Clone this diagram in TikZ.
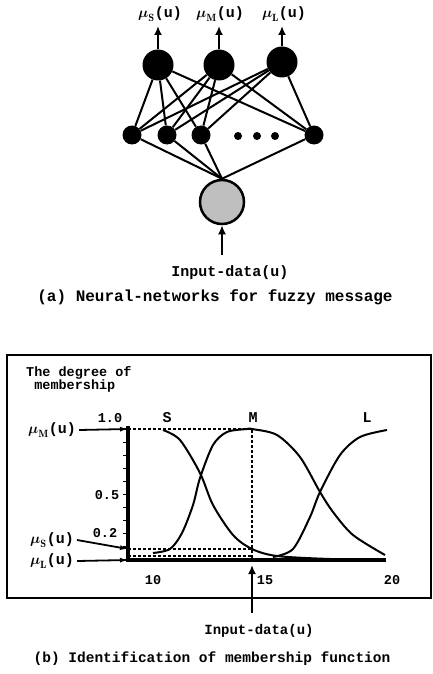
\documentclass[tikz,border=0pt]{standalone}
\usepackage{amsmath}
\usepackage{fontspec}
\setmonofont{Liberation Mono}
\usetikzlibrary{arrows.meta}
\newcommand\mulab[1]{$\boldsymbol{\mu}_{\mathbf{#1}}$(u)}
\begin{document}
\begin{tikzpicture}[x=1pt,y=-1pt,
  txt/.style={font=\ttfamily\bfseries\fontsize{15}{15}\selectfont, inner sep=0},
  small/.style={font=\ttfamily\bfseries\fontsize{13.5}{13.5}\selectfont, inner sep=0},
  captxt/.style={font=\ttfamily\bfseries\fontsize{16}{16}\selectfont, inner sep=0},
  outn/.style={circle, fill=black, minimum size=31pt, inner sep=0},
  hidn/.style={circle, fill=black, minimum size=19pt, inner sep=0},
  dotn/.style={circle, fill=black, minimum size=8pt, inner sep=0},
  inn/.style={circle, fill=gray!50, draw=black, line width=2.5pt, minimum size=44pt, inner sep=0},
  conn/.style={line width=2pt},
  arr/.style={line width=2.6pt, -{Latex[length=9pt,width=8pt]}},
  thinarr/.style={line width=1.8pt, -{Latex[length=8pt,width=5pt]}},
  curve/.style={line width=2pt},
  dsh/.style={line width=1.6pt, dash pattern=on 3pt off 2pt},
  axis/.style={line width=3.5pt}]
\useasboundingbox (0,0) rectangle (433,674);

% ---------- (a) network ----------
\node[outn] (o1) at (158,65) {};
\node[outn] (o2) at (219,65) {};
\node[outn] (o3) at (282,62) {};
\node[hidn] (h1) at (132,135) {};
\node[hidn] (h2) at (167,135) {};
\node[hidn] (h3) at (201,135) {};
\node[hidn] (h4) at (314,135) {};
\node[dotn] (d1) at (238,136) {};
\node[dotn] (d2) at (257,136) {};
\node[dotn] (d3) at (275,136) {};
\node[inn] (in) at (222,202) {};

\foreach \o in {o1,o2,o3}
  \foreach \h in {h1,h2,h3,h4}
    \draw[conn] (\o) -- (\h);
\foreach \h in {h1,h2,h3,h4}
  \draw[conn] (\h) -- (in.north);

\coordinate (t1) at (158,26);
\coordinate (t2) at (219,26);
\coordinate (t3) at (282,26);
\draw[arr] (o1.north) -- (t1);
\draw[arr] (o2.north) -- (t2);
\draw[arr] (o3.north) -- (t3);
\node[txt] (l1) at (160,14) {\mulab S};
\node[txt] (l2) at (220,14) {\mulab M};
\node[txt] (l3) at (284,14) {\mulab L};

\coordinate (ib) at (222,255);
\draw[arr] (ib) -- (in.south);
\node[txt] (inlab) at (230,273) {Input-data(u)};
\node[captxt] (capa) at (215,297) {(a) Neural-networks for fuzzy message};

% ---------- (b) membership ----------
\node[draw=black, line width=2.5pt, minimum width=424pt, minimum height=243pt, inner sep=0] (box) at (219,476.5) {};
\node[small, align=left, anchor=north west] (deg) at (26,366) {The degree of\\ \ membership};

\coordinate (org) at (128,560);
\coordinate (ytop) at (128,426);
\coordinate (xend) at (386,560);
\draw[axis] (ytop) -- (org) -- (xend);
\foreach \k in {0,...,10}
  \draw[line width=1.2pt] (123,{560-13.1*\k}) -- (128,{560-13.1*\k});

\node[small] (y10) at (110,418) {1.0};
\node[small] (y05) at (107,495) {0.5};
\node[small] (y02) at (105,533) {0.2};
\node[small] (x10) at (153,580) {10};
\node[small] (x15) at (265,580) {15};
\node[small] (x20) at (392,580) {20};
\node[txt] (sS) at (167,418) {S};
\node[txt] (sM) at (253,418) {M};
\node[txt] (sL) at (367,418) {L};

% dashed guides
\coordinate (p1) at (128,429);
\coordinate (pk) at (252,429);
\coordinate (pb) at (252,560);
\coordinate (s1) at (128,549);
\coordinate (s2) at (252,549);
\coordinate (q1) at (128,556);
\coordinate (q2) at (252,556);
\draw[dsh] (p1) -- (pk) -- (pb);
\draw[dsh] (s1) -- (s2);
\draw[dsh] (q1) -- (q2);

% curves
\draw[curve] plot[smooth] coordinates {(163,430) (180,440) (200,473) (213,505) (233,535) (252,549) (277,556) (330,559) (385,560)};
\draw[curve] plot[smooth] coordinates {(153,553) (170,549) (182,533) (193,505) (200,478) (213,445) (227,432) (247,429) (252,429) (277,435) (300,457) (320,492) (333,512) (353,535) (385,555)};
\draw[curve] plot[smooth] coordinates {(273,557) (293,549) (310,517) (320,492) (340,455) (360,437) (387,430)};

% left arrows
\node[txt] (mM) at (52,430) {\mulab M};
\node[txt] (mS) at (52,540) {\mulab S};
\node[txt] (mL) at (52,561) {\mulab L};
\draw[thinarr] (mM.east) ++(3,0) -- (p1);
\draw[thinarr] (mS.east) ++(3,0) -- (s1);
\draw[thinarr] (mL.east) ++(3,0) -- (org);

% input arrow
\coordinate (ub) at (252,613);
\coordinate (ut) at (252,565);
\draw[arr] (ub) -- (ut);
\node[txt, font=\ttfamily\bfseries\fontsize{14}{14}\selectfont] (ulab) at (259,631) {Input-data(u)};
\node[captxt, font=\ttfamily\bfseries\fontsize{14.5}{14.5}\selectfont] (capb) at (212,659) {(b) Identification of membership function};
\end{tikzpicture}
\end{document}
